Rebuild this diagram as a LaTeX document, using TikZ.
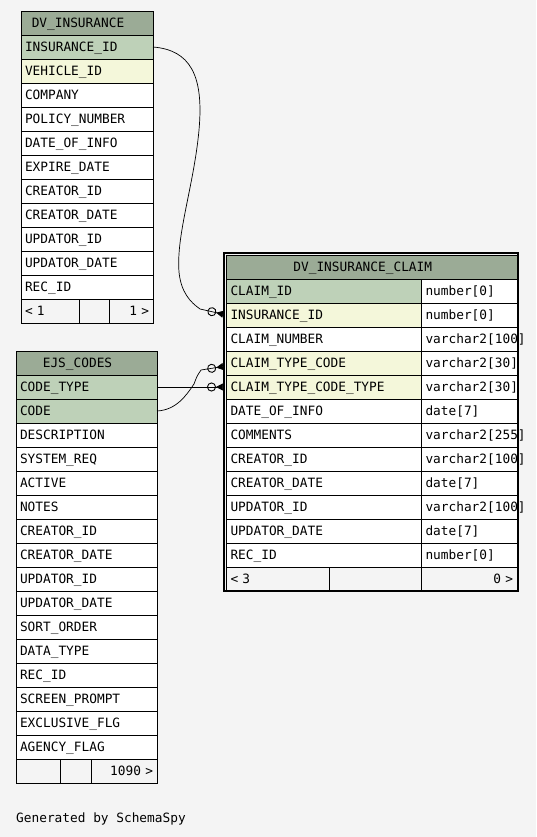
\documentclass[tikz,border=0pt]{standalone}
\usepackage{fontspec}
\setmonofont[HyphenChar=None]{DejaVu Sans Mono}
\usetikzlibrary{arrows.meta,positioning}
\definecolor{PageBg}{HTML}{F4F4F4}
\definecolor{HeadGreen}{HTML}{9BAB96}
\definecolor{KeyGreen}{HTML}{BED1B8}
\definecolor{LinkYellow}{HTML}{F4F7DA}
\newcommand{\rowfont}{\ttfamily\fontsize{12.8}{14}\selectfont}

\begin{document}
\begin{tikzpicture}[x=1pt, y=-1pt,
  cell/.style={draw, line width=0.9pt, outer sep=0pt, inner xsep=4pt, inner ysep=0pt,
               minimum height=24pt, text height=9.4pt, text depth=0pt,
               text width=#1, align=left, font=\rowfont},
  col/.style={cell=#1, fill=white},
  pk/.style={cell=#1, fill=KeyGreen},
  fk/.style={cell=#1, fill=LinkYellow},
  foot/.style={cell=#1, fill=PageBg},
  head/.style={draw, line width=0.9pt, fill=HeadGreen, outer sep=0pt, inner sep=0pt,
               minimum width=#1, minimum height=24pt, text height=9.4pt, text depth=0pt,
               font=\rowfont, execute at end node={\kern18pt}},
  link/.style={line width=0.7pt, shorten >=3.5pt,
               -{Circle[open, length=9pt, width=9pt, line width=0.9pt] Triangle[reversed, length=7pt, width=7pt]}}]
  \fill[PageBg] (0,0) rectangle (536,837);

  % DV_INSURANCE
  \node[head=132pt, anchor=north west] (ins-0) at (21,11) {DV\_INSURANCE};
  \foreach \f/\s [count=\i] in {INSURANCE\_ID/pk, VEHICLE\_ID/fk, COMPANY/col,
      POLICY\_NUMBER/col, DATE\_OF\_INFO/col, EXPIRE\_DATE/col, CREATOR\_ID/col,
      CREATOR\_DATE/col, UPDATOR\_ID/col, UPDATOR\_DATE/col, REC\_ID/col} {
    \pgfmathtruncatemacro\j{\i-1}
    \node[\s=124pt, below=0pt of ins-\j] (ins-\i) {\f};
  }
  \node[foot=50pt, anchor=north west] (ifoot-1) at (ins-11.south west) {< 1};
  \node[foot=22pt, right=0pt of ifoot-1] (ifoot-2) {};
  \node[foot=36pt, align=right, right=0pt of ifoot-2] (ifoot-3) {1 >};

  % EJS_CODES
  \node[head=141pt, anchor=north west] (ejs-0) at (16,351) {EJS\_CODES};
  \foreach \f/\s [count=\i] in {CODE\_TYPE/pk, CODE/pk, DESCRIPTION/col,
      SYSTEM\_REQ/col, ACTIVE/col, NOTES/col, CREATOR\_ID/col, CREATOR\_DATE/col,
      UPDATOR\_ID/col, UPDATOR\_DATE/col, SORT\_ORDER/col, DATA\_TYPE/col,
      REC\_ID/col, SCREEN\_PROMPT/col, EXCLUSIVE\_FLG/col, AGENCY\_FLAG/col} {
    \pgfmathtruncatemacro\j{\i-1}
    \node[\s=133pt, below=0pt of ejs-\j] (ejs-\i) {\f};
  }
  \node[foot=36pt, anchor=north west] (efoot-1) at (ejs-16.south west) {};
  \node[foot=23pt, right=0pt of efoot-1] (efoot-2) {};
  \node[foot=58pt, align=right, right=0pt of efoot-2] (efoot-3) {1090 >};

  % DV_INSURANCE_CLAIM
  \node[head=290.5pt, anchor=north west] (claim-0) at (226.5,255) {DV\_INSURANCE\_CLAIM};
  \foreach \f/\s/\t [count=\i] in {CLAIM\_ID/pk/number[0], INSURANCE\_ID/fk/number[0],
      CLAIM\_NUMBER/col/varchar2[100], CLAIM\_TYPE\_CODE/fk/varchar2[30],
      CLAIM\_TYPE\_CODE\_TYPE/fk/varchar2[30], DATE\_OF\_INFO/col/date[7],
      COMMENTS/col/varchar2[255], CREATOR\_ID/col/varchar2[100],
      CREATOR\_DATE/col/date[7], UPDATOR\_ID/col/varchar2[100],
      UPDATOR\_DATE/col/date[7], REC\_ID/col/number[0]} {
    \pgfmathtruncatemacro\j{\i-1}
    \node[\s=187pt, anchor=north west] (claim-\i) at (claim-\j.south west) {\f};
    \node[col=87.5pt, right=0pt of claim-\i] (type-\i) {\t};
  }
  \node[foot=94.5pt, anchor=north west] (cfoot-1) at (claim-12.south west) {< 3};
  \node[foot=84.5pt, right=0pt of cfoot-1] (cfoot-2) {};
  \node[foot=87.5pt, align=right, right=0pt of cfoot-2] (cfoot-3) {0 >};
  \draw[line width=2.6pt] ([shift={(-2.5,-2)}]claim-0.north west)
    rectangle ([shift={(1,0)}]cfoot-3.south east);

  % relations
  \draw[link] (ins-1.east) .. controls (190,50) and (204,75) .. (199,130)
    .. controls (194,185) and (176,235) .. (179,272)
    .. controls (181,292) and (190,302) .. (200,309) -- (claim-2.west);
  \draw[link] (ejs-1.east) -- (ejs-1.east -| claim-5.west);
  \draw[link] (ejs-2.east) .. controls (176,410) and (186,396) .. (194,384)
    .. controls (197,376) .. (201,370) -- ([yshift=-3pt]claim-4.west);

  \node[anchor=base west, inner sep=0pt, font=\rowfont] (credit) at (16,822) {Generated by SchemaSpy};
\end{tikzpicture}
\end{document}
